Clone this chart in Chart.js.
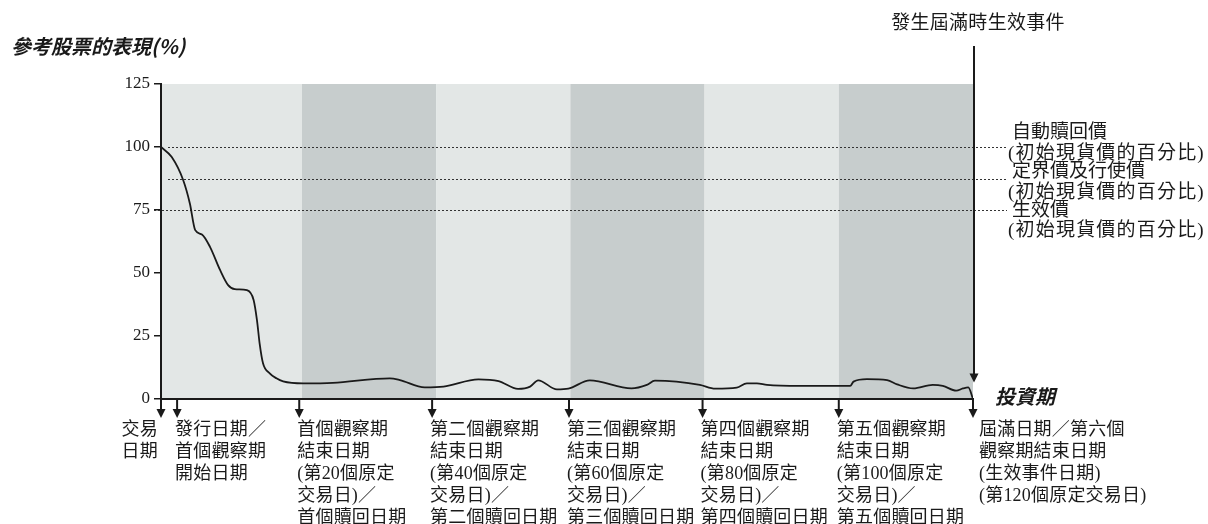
<!DOCTYPE html>
<html>
<head>
<meta charset="utf-8">
<script src="https://cdn.jsdelivr.net/npm/chart.js@4.4.1/dist/chart.umd.min.js"></script>
<style>
  html, body { margin: 0; padding: 0; background: #fff; }
  canvas { display: block; }
</style>
</head>
<body>
<canvas id="perfChart" width="1208" height="524"></canvas>
<script>
// Dữ liệu: trục x là số ngày giao dịch (0 = ngày phát hành, 120 = ngày đáo hạn)
const days = [-1, 0.6, 2.3, 3.3, 4.1, 5.1, 6.3, 7.8, 9.0, 10.0, 11.8, 12.8, 13.3, 13.7, 14.2, 15.2, 16.2, 17.2,
  20.2, 24.6, 33.1, 34.6, 38.3, 41.1, 46.3, 49.3, 52.2, 54.0, 55.2, 58.0, 59.7, 62.9, 69.1, 71.4, 72.6, 75.8,
  79.3, 81.6, 84.8, 86.3, 87.8, 89.3, 94.2, 101.7, 102.2, 104.2, 107.2, 108.7, 111.1, 114.0, 115.5, 117.5,
  118.5, 119.3, 120];
const perf = [100, 96, 86.9, 77.6, 67, 65.3, 60.4, 51.2, 45.2, 43.6, 43.2, 39.3, 31.3, 22, 14.2, 10.2, 8.2, 7.0,
  6.2, 6.4, 8.2, 7.5, 4.6, 4.9, 7.8, 7.1, 4.0, 4.9, 7.4, 3.8, 4.1, 7.4, 4.2, 5.6, 7.3, 6.9,
  5.6, 4.1, 4.5, 6.2, 6.2, 5.6, 5.2, 5.2, 6.9, 7.9, 7.5, 5.8, 4.2, 5.6, 5.2, 3.3,
  4.2, 4.6, 0];

const yTicks = [0, 25, 50, 75, 100, 125];
const bandEdges = [-1, 20, 40, 60, 80, 100, 120];        // 6 kỳ quan sát
const refLevels = [100, 87.5, 75];                         // giá mua lại / giá giới hạn / giá kích hoạt
const refLabels = [
  ['自動贖回價', '(初始現貨價的百分比)'],
  ['定界價及行使價', '(初始現貨價的百分比)'],
  ['生效價', '(初始現貨價的百分比)']
];
const arrowDays = [-1, 1.4, 19.6, 39.4, 59.8, 79.7, 100, 120];
const dateLabels = [
  ['交易', '日期'],
  ['發行日期／', '首個觀察期', '開始日期'],
  ['首個觀察期', '結束日期', '(第20個原定', '交易日)／', '首個贖回日期'],
  ['第二個觀察期', '結束日期', '(第40個原定', '交易日)／', '第二個贖回日期'],
  ['第三個觀察期', '結束日期', '(第60個原定', '交易日)／', '第三個贖回日期'],
  ['第四個觀察期', '結束日期', '(第80個原定', '交易日)／', '第四個贖回日期'],
  ['第五個觀察期', '結束日期', '(第100個原定', '交易日)／', '第五個贖回日期'],
  ['屆滿日期／第六個', '觀察期結束日期', '(生效事件日期)', '(第120個原定交易日)']
];
const yTitle = '參考股票的表現(%)';
const xTitle = '投資期';
const eventTitle = '發生屆滿時生效事件';

const FAMILY = '"Liberation Serif", "Noto Sans CJK TC", serif';
const INK = '#1a1a1a';

// Viết chữ theo tâm dọc của ký tự CJK (baseline = tâm + 0.37em)
function text(ctx, str, x, cy, size, spacing) {
  ctx.font = size + 'px ' + FAMILY;
  ctx.letterSpacing = (spacing || 0) + 'px';
  ctx.fillText(str, x, cy + size * 0.37);
}

// Vẽ mũi tên thẳng đứng hướng xuống
function drawArrowDown(ctx, x, y1, y2) {
  ctx.save();
  ctx.strokeStyle = INK;
  ctx.fillStyle = INK;
  ctx.lineWidth = 2;
  ctx.beginPath();
  ctx.moveTo(x, y1);
  ctx.lineTo(x, y2 - 6);
  ctx.stroke();
  ctx.beginPath();
  ctx.moveTo(x - 4.5, y2 - 9);
  ctx.lineTo(x + 4.5, y2 - 9);
  ctx.lineTo(x, y2);
  ctx.closePath();
  ctx.fill();
  ctx.restore();
}

// Plugin: nền xen kẽ các kỳ quan sát + đường chấm tham chiếu
const bandPlugin = {
  id: 'bands',
  beforeDraw(chart) {
    const { ctx, chartArea, scales } = chart;
    ctx.save();
    for (let i = 0; i < bandEdges.length - 1; i++) {
      const x1 = scales.x.getPixelForValue(bandEdges[i]);
      const x2 = scales.x.getPixelForValue(bandEdges[i + 1]);
      ctx.fillStyle = i % 2 === 0 ? '#e3e7e6' : '#c7cdcd';
      ctx.fillRect(x1, chartArea.top, x2 - x1, chartArea.bottom - chartArea.top);
    }
    ctx.restore();
  },
  beforeDatasetsDraw(chart) {
    const { ctx, chartArea, scales } = chart;
    ctx.save();
    ctx.strokeStyle = '#333';
    ctx.lineWidth = 1;
    ctx.setLineDash([2, 2]);
    refLevels.forEach((lv, i) => {
      const y = Math.round(scales.y.getPixelForValue(lv)) + 0.5;
      ctx.beginPath();
      ctx.moveTo(i === 2 ? chartArea.left - 7 : chartArea.left + 7, y);
      ctx.lineTo(chartArea.right + 34, y);
      ctx.stroke();
    });
    ctx.restore();
  }
};

// Plugin: chú thích, mũi tên, nhãn ngày
const annotatePlugin = {
  id: 'annotate',
  afterDraw(chart) {
    const { ctx, chartArea, scales } = chart;
    const x = scales.x, y = scales.y;
    ctx.save();
    ctx.fillStyle = INK;
    ctx.textBaseline = 'alphabetic';

    // Tiêu đề trục y và trục x (đậm, nghiêng)
    ctx.textAlign = 'left';
    ctx.font = 'italic bold 20px "Noto Sans CJK TC", sans-serif';
    ctx.fillText(yTitle, 11, 47 + 7.4);
    ctx.fillText(xTitle, chartArea.right + 22, y.getPixelForValue(0) - 2 + 7.4);

    // Sự kiện đáo hạn + mũi tên từ trên xuống
    ctx.textAlign = 'center';
    text(ctx, eventTitle, x.getPixelForValue(120) + 5, 21.5, 19, 0.3);
    drawArrowDown(ctx, x.getPixelForValue(120) + 1, 46, y.getPixelForValue(6.5));

    // Nhãn các mức tham chiếu bên phải
    ctx.textAlign = 'left';
    const offsets = [[-16.3, 5], [-8.5, 12.5], [-1, 19]];
    refLevels.forEach((lv, i) => {
      const py = y.getPixelForValue(lv);
      text(ctx, refLabels[i][0], chartArea.right + 39, py + offsets[i][0], 19, 0);
      text(ctx, refLabels[i][1], chartArea.right + 35, py + offsets[i][1], 19, 1.2);
    });

    // Mũi tên và nhãn ngày bên dưới trục x
    const base = chartArea.bottom;
    arrowDays.forEach((d, i) => {
      const px = x.getPixelForValue(d);
      drawArrowDown(ctx, px, base + 1, base + 19);
      const last = i === arrowDays.length - 1;
      ctx.textAlign = i === 0 ? 'right' : 'left';
      const lx = i === 0 ? px - 3 : (last ? px + 6 : px - 2);
      dateLabels[i].forEach((line, j) => {
        text(ctx, line, lx, base + 29.5 + j * 22, 18, 0.2);
      });
    });

    ctx.restore();
  }
};

const ctx = document.getElementById('perfChart').getContext('2d');
new Chart(ctx, {
  type: 'line',
  data: {
    datasets: [{
      data: days.map((d, i) => ({ x: d, y: perf[i] })),
      borderColor: INK,
      borderWidth: 1.8,
      pointRadius: 0,
      cubicInterpolationMode: 'monotone',
      fill: false
    }]
  },
  options: {
    responsive: false,
    animation: false,
    layout: { padding: { top: 84, right: 235, bottom: 0, left: 0 } },
    plugins: { legend: { display: false }, tooltip: { enabled: false } },
    scales: {
      x: {
        type: 'linear',
        min: -1,
        max: 120,
        ticks: { display: false },
        grid: { display: false },
        border: { display: true, color: INK, width: 2 },
        afterFit: (s) => { s.height = 125; }
      },
      y: {
        min: 0,
        max: 125,
        afterBuildTicks: (s) => { s.ticks = yTicks.map(v => ({ value: v })); },
        ticks: {
          color: INK,
          padding: 4,
          font: { family: '"Liberation Serif", serif', size: 17 }
        },
        grid: { drawOnChartArea: false, drawTicks: true, tickLength: 7, color: INK, lineWidth: 1.5 },
        border: { display: true, color: INK, width: 2 },
        afterFit: (s) => { s.width = 161; }
      }
    }
  },
  plugins: [bandPlugin, annotatePlugin]
});
</script>
</body>
</html>
